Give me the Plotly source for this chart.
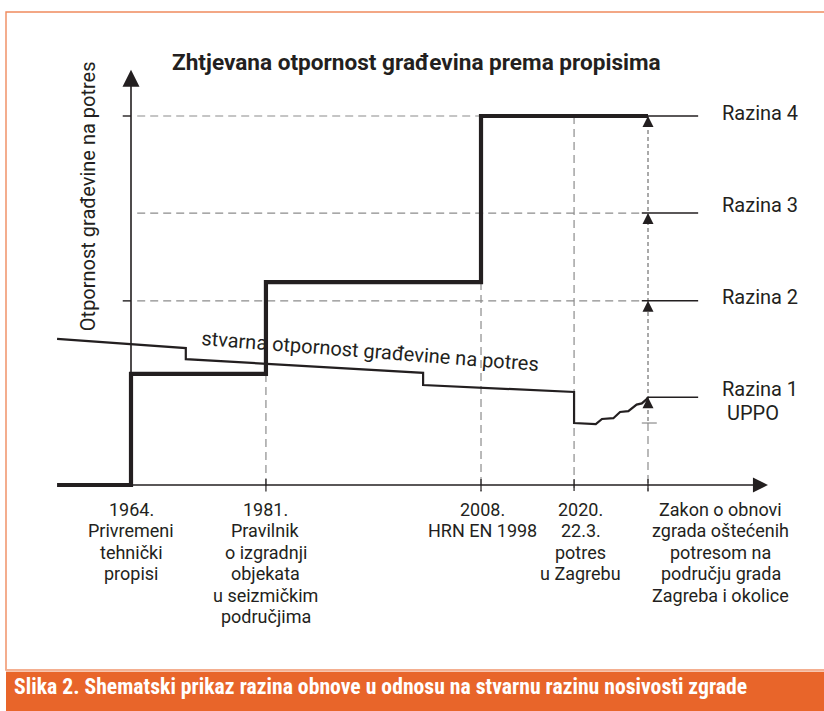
import plotly.graph_objects as go

# ---------------- data (schematic units) ----------------
# x: time position (0 = 1964 / y-axis, 100 = Zakon o obnovi)
# y: building resistance (0 = time axis, 100 = Razina 4)
event_x = [0, 26.1, 67.7, 85.7, 100]
event_labels = [
    ["1964.", "Privremeni", "tehnički", "propisi"],
    ["1981.", "Pravilnik", "o izgradnji", "objekata", "u seizmičkim", "područjima"],
    ["2008.", "HRN EN 1998"],
    ["2020.", "22.3.", "potres", "u Zagrebu"],
    ["Zakon o obnovi", "zgrada oštećenih", "potresom na", "području grada", "Zagreba i okolice"],
]
label_x = [0, 26.1, 67.9, 87.0, 114.1]

# required resistance according to regulations (step line)
required_x = [-14.3, 0, 0, 26.1, 26.1, 67.7, 67.7, 100]
required_y = [0, 0, 30.1, 30.1, 55.0, 55.0, 100, 100]

# actual resistance of buildings
actual_x = [-14.3, 10.6, 10.6, 56.5, 56.5, 85.7, 85.7, 89.9, 91.1, 93.3, 94.6, 96.2, 97.8, 98.8, 99.7, 100]
actual_y = [39.6, 37.1, 34.1, 30.4, 27.1, 25.2, 16.8, 16.5, 17.9, 18.1, 19.8, 20.0, 21.8, 22.1, 23.2, 23.8]

razina_names = ["Razina 1", "Razina 2", "Razina 3", "Razina 4"]
razina_y = [23.8, 49.9, 73.7, 100]
razina_label_y = [26.0, 50.9, 75.9, 100.8]
uppo_y = 19.5

title_text = "Zhtjevana otpornost građevina prema propisima"
ytitle_text = "Otpornost građevine na potres"
actual_text = "stvarna otpornost građevine na potres"
caption_text = "Slika 2. Shematski prikaz razina obnove u odnosu na stvarnu razinu nosivosti zgrade"

# ---------------- styling ----------------
INK = "#231F20"
GRAY = "#8C8C8C"
ORANGE = "#E8652A"
FONT = "Roboto, 'Noto Sans', sans-serif"

W, H = 824, 711
XPX, X0PX = 5.17, 131.0     # px per x unit, px of x=0
YPX, Y0PX = 3.69, 485.0     # px per y unit, px of y=0
x_range = [-X0PX / XPX, (W - X0PX) / XPX]
y_range = [-(H - Y0PX) / YPX, Y0PX / YPX]

fig = go.Figure()


def seg(xs, ys, color=INK, width=1.5, dash="solid"):
    fig.add_trace(go.Scatter(x=xs, y=ys, mode="lines", hoverinfo="skip",
                             line=dict(color=color, width=width, dash=dash)))


# gray dashed level lines
seg([1.2, 100], [razina_y[3]] * 2, GRAY, 1.2, "8px,5px")
seg([1.2, 98.8], [razina_y[2]] * 2, GRAY, 1.2, "8px,5px")
seg([1.2, 98.8], [razina_y[1]] * 2, GRAY, 1.2, "8px,5px")

# gray dashed vertical event lines
seg([event_x[1]] * 2, [required_y[3], -1.9], GRAY, 1.2, "8px,5px")
seg([event_x[2]] * 2, [required_y[5], -1.9], GRAY, 1.2, "8px,5px")
seg([event_x[3]] * 2, [razina_y[3], -1.9], GRAY, 1.2, "8px,5px")
seg([event_x[4]] * 2, [actual_y[6], -1.9], GRAY, 1.2, "8px,5px")
# dark dashed line between the renovation levels
seg([event_x[4]] * 2, [razina_y[3], actual_y[6]], "#555555", 1.0, "4px,3px")
seg([98.8, 101.7], [actual_y[6]] * 2, GRAY, 1.2)

# solid level lines to the right
seg([100, 109.7], [razina_y[3]] * 2, INK, 1.5)
seg([98.8, 109.7], [razina_y[2]] * 2, INK, 1.5)
seg([98.8, 109.7], [razina_y[1]] * 2, INK, 1.5)
seg([100, 109.7], [razina_y[0]] * 2, INK, 1.5)

# axes
seg([0, 0], [0, 110.5], INK, 1.6)
seg([0, 121.5], [0, 0], INK, 1.6)
for yt in [razina_y[3], razina_y[1]]:
    seg([-1.6, 0], [yt, yt], INK, 1.4)
for xt in event_x[1:]:
    seg([xt, xt], [1.6, -1.6], INK, 1.2)

# actual resistance
seg(actual_x, actual_y, INK, 2.2)
# required resistance
seg(required_x, required_y, INK, 4.2)

# arrow heads
fig.add_trace(go.Scatter(x=[event_x[4]] * 4, y=razina_y, mode="markers", hoverinfo="skip",
                         marker=dict(symbol="arrow-up", size=11, color=INK, line=dict(width=0))))
fig.add_trace(go.Scatter(x=[0], y=[112.5], mode="markers", hoverinfo="skip",
                         marker=dict(symbol="arrow-up", size=17, color=INK, line=dict(width=0))))
fig.add_trace(go.Scatter(x=[123.2], y=[0], mode="markers", hoverinfo="skip",
                         marker=dict(symbol="arrow-right", size=15, color=INK, line=dict(width=0))))

ann = []
txt = dict(family=FONT, size=20, color=INK)
txt_small = dict(family=FONT, size=18, color=INK)

# title
ann.append(dict(x=55.3, y=114.6, text=title_text, showarrow=False, xanchor="center", yanchor="middle",
                font=dict(family=FONT, size=22.6, color=INK, weight="bold")))
# y-axis title
ann.append(dict(x=-8.3, y=78.3, text=ytitle_text, showarrow=False, textangle=-90,
                xanchor="center", yanchor="middle", font=txt))
# actual line label
ann.append(dict(x=46.2, y=36.4, text=actual_text, showarrow=False, textangle=4.4,
                xanchor="center", yanchor="middle", font=txt))
# level labels
for name, ly in zip(razina_names, razina_label_y):
    ann.append(dict(x=114.0, y=ly, text=name, showarrow=False, xanchor="left", yanchor="middle", font=txt))
ann.append(dict(x=114.9, y=uppo_y, text="UPPO", showarrow=False, xanchor="left", yanchor="middle", font=txt))
# event labels (one text per line)
LINE_PX = 21.4
for lx, lines in zip(label_x, event_labels):
    for i, line in enumerate(lines):
        ypx = 509.5 + LINE_PX * i
        ann.append(dict(x=lx, y=(Y0PX - ypx) / YPX, text=line, showarrow=False,
                        xanchor="center", yanchor="middle", font=txt_small))
# caption
ann.append(dict(xref="paper", yref="paper", x=12 / W, y=1 - 686 / H, text=caption_text,
                showarrow=False, xanchor="left", yanchor="middle",
                font=dict(family="'Liberation Sans Narrow', 'Roboto Condensed', 'Arial Narrow', Roboto, sans-serif",
                          size=21.7, color="white", weight="bold")))

shapes = [
    dict(type="rect", xref="paper", yref="paper", x0=6 / W, x1=1.05, y0=1 - 670 / H, y1=1 - 12 / H,
         line=dict(color="#EF8B5E", width=1.4), layer="below"),
    dict(type="line", xref="paper", yref="paper", x0=6 / W, x1=1.05, y0=1 - 670.5 / H, y1=1 - 670.5 / H,
         line=dict(color="#F4B294", width=2.5), layer="below"),
    dict(type="rect", xref="paper", yref="paper", x0=6 / W, x1=1.05, y0=-0.05, y1=1 - 672 / H,
         fillcolor=ORANGE, line=dict(width=0), layer="below"),
]

fig.update_layout(
    width=W, height=H, autosize=False,
    margin=dict(l=0, r=0, t=0, b=0, pad=0),
    paper_bgcolor="white", plot_bgcolor="white",
    showlegend=False,
    xaxis=dict(range=x_range, visible=False, fixedrange=True),
    yaxis=dict(range=y_range, visible=False, fixedrange=True),
    annotations=ann, shapes=shapes,
)

fig.write_html("out.html", config={"displayModeBar": False},
               post_script="document.body.style.margin='0';document.body.style.overflow='hidden';")
